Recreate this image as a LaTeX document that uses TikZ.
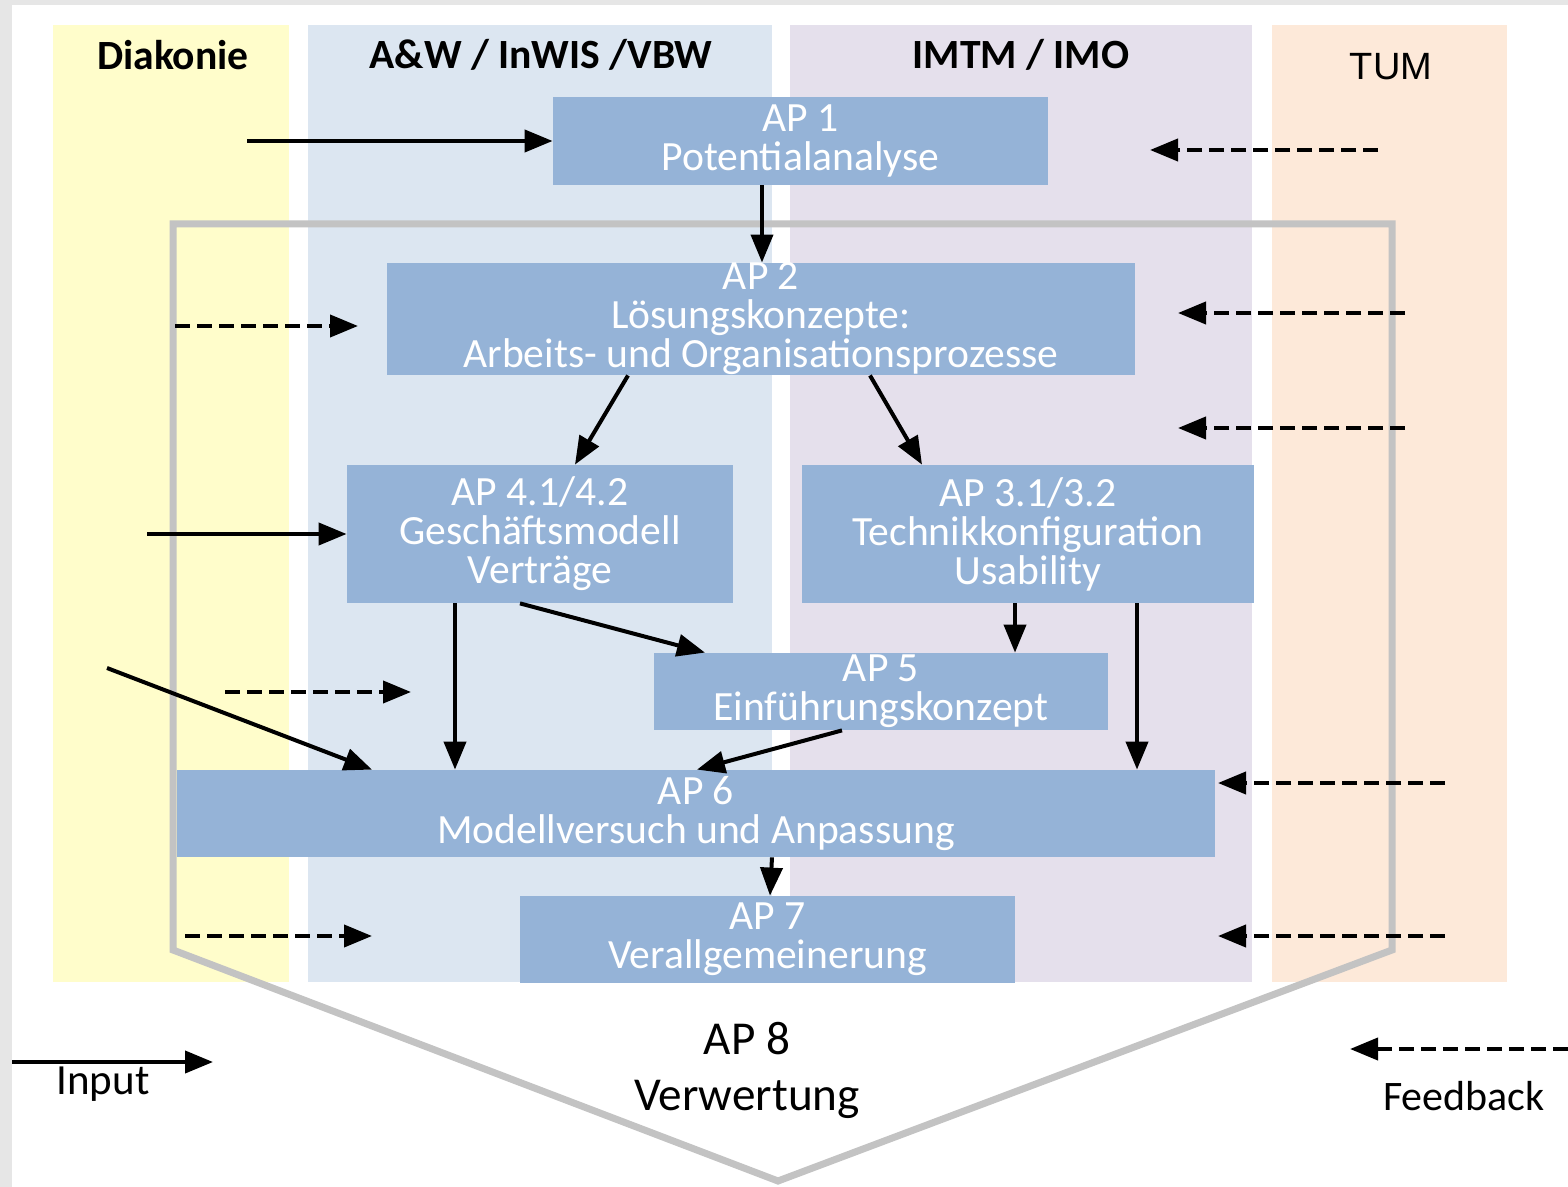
\documentclass[tikz,border=0pt]{standalone}
\usepackage{fontspec}
\setmainfont{Carlito}
\newfontfamily\arialfont{Liberation Sans}
\usetikzlibrary{arrows.meta}
\definecolor{apblue}{HTML}{95B3D7}
\definecolor{laneyellow}{HTML}{FFFDCB}
\definecolor{laneblue}{HTML}{DCE6F1}
\definecolor{lanepurple}{HTML}{E5E0EC}
\definecolor{lanepeach}{HTML}{FDE9D9}
\definecolor{framegray}{HTML}{C3C3C3}
\definecolor{edgegray}{HTML}{E6E6E6}
\tikzset{
  apbox/.style={fill=apblue, text=white, inner sep=0pt, align=center,
    font=\fontsize{20.8pt}{19.5pt}\selectfont},
  header/.style={inner sep=0pt, font=\bfseries\fontsize{20.8pt}{24pt}\selectfont},
  plain/.style={inner sep=0pt, align=center},
  sarrow/.style={line width=2pt, -{Triangle[length=14pt,width=11pt]}},
  darrow/.style={sarrow, dash pattern=on 7.5pt off 3.5pt},
  frame/.style={draw=framegray, line width=3.5pt, line join=miter}
}
\begin{document}
\begin{tikzpicture}[x=0.5pt,y=-0.5pt]
\useasboundingbox (0,0) rectangle (1568,1187);
% page background
\fill[edgegray] (0,0) rectangle (1568,1187);
\fill[white] (12,5) rectangle (1568,1187);
% lanes
\fill[laneyellow] (53,25) rectangle (289,982);
\fill[laneblue] (308,25) rectangle (772,982);
\fill[lanepurple] (790,25) rectangle (1252,982);
\fill[lanepeach] (1272,25) rectangle (1507,982);
% headers
\node[header] (hdia) at (173,55) {Diakonie};
\node[header] (haw) at (541,55) {A\&W / InWIS /VBW};
\node[header] (himtm) at (1021,55) {IMTM / IMO};
\node[inner sep=0pt, font=\arialfont\fontsize{19pt}{22pt}\selectfont] (htum) at (1391,67) {TUM};
% AP8 frame
\draw[frame] (173,950) -- (173,224) -- (1392,224) -- (1392,950) -- (778,1181) -- cycle;
% boxes
\node[apbox, minimum width=247.5pt, minimum height=44pt] (ap1) at (800.5,141) {AP 1\\Potentialanalyse};
\node[apbox, minimum width=374pt, minimum height=56pt] (ap2) at (761,319) {AP 2\\Lösungskonzepte:\\Arbeits- und Organisationsprozesse};
\node[apbox, minimum width=193pt, minimum height=69pt] (ap4) at (540,534) {AP 4.1/4.2\\Geschäftsmodell\\Verträge};
\node[apbox, minimum width=226pt, minimum height=69pt] (ap3) at (1028,534) {AP 3.1/3.2\\Technikkonfiguration\\Usability};
\node[apbox, minimum width=227pt, minimum height=38.5pt] (ap5) at (881,691.5) {AP 5\\Einführungskonzept};
\node[apbox, minimum width=519pt, minimum height=43.5pt] (ap6) at (696,813.5) {AP 6\\Modellversuch und Anpassung};
\node[apbox, minimum width=247.5pt, minimum height=43.5pt] (ap7) at (767.5,939.5) {AP 7\\Verallgemeinerung};
% AP8 label and legend texts
\node[plain, font=\fontsize{23.6pt}{28pt}\selectfont] (ap8) at (747,1070) {AP 8\\Verwertung};
\node[plain, font=\fontsize{21.5pt}{24pt}\selectfont] (linput) at (103,1084) {Input};
\node[plain, font=\fontsize{21pt}{24pt}\selectfont] (lfeed) at (1464,1096) {Feedback};
% free ends
\coordinate (in1) at (247,141);
\coordinate (in2) at (147,534);
\coordinate (in3) at (107,668);
\coordinate (legin0) at (12,1062);
\coordinate (legin1) at (213,1062);
\coordinate (da0) at (175,326);  \coordinate (da1) at (358,326);
\coordinate (db0) at (225,692);  \coordinate (db1) at (411,692);
\coordinate (dc0) at (185,936);  \coordinate (dc1) at (372,936);
\coordinate (dd0) at (1378,150); \coordinate (dd1) at (1150,150);
\coordinate (de0) at (1405,313); \coordinate (de1) at (1178,313);
\coordinate (df0) at (1405,428); \coordinate (df1) at (1178,428);
\coordinate (dg0) at (1445,783); \coordinate (dg1) at (1218,783);
\coordinate (dh0) at (1445,936); \coordinate (dh1) at (1218,936);
\coordinate (legfb0) at (1568,1049); \coordinate (legfb1) at (1350,1049);
% solid connectors
\draw[sarrow] (in1) -- (ap1.west);
\draw[sarrow] (762,0 |- ap1.south) -- (762,0 |- ap2.north);
\draw[sarrow] (628,0 |- ap2.south) -- (575,0 |- ap4.north);
\draw[sarrow] (870,0 |- ap2.south) -- (922,0 |- ap3.north);
\draw[sarrow] (in2) -- (ap4.west);
\draw[sarrow] (455,0 |- ap4.south) -- (455,0 |- ap6.north);
\draw[sarrow] (520,0 |- ap4.south) -- (705,0 |- ap5.north);
\draw[sarrow] (in3) -- (372,0 |- ap6.north);
\draw[sarrow] (1015,0 |- ap3.south) -- (1015,0 |- ap5.north);
\draw[sarrow] (1137,0 |- ap3.south) -- (1137,0 |- ap6.north);
\draw[sarrow] (842,0 |- ap5.south) -- (697,0 |- ap6.north);
\draw[sarrow] (772,0 |- ap6.south) -- (770,0 |- ap7.north);
\draw[sarrow] (legin0) -- (legin1);
% dashed feedback connectors
\draw[darrow] (da0) -- (da1);
\draw[darrow] (db0) -- (db1);
\draw[darrow] (dc0) -- (dc1);
\draw[darrow] (dd0) -- (dd1);
\draw[darrow] (de0) -- (de1);
\draw[darrow] (df0) -- (df1);
\draw[darrow] (dg0) -- (dg1);
\draw[darrow] (dh0) -- (dh1);
\draw[darrow] (legfb0) -- (legfb1);
\end{tikzpicture}
\end{document}
